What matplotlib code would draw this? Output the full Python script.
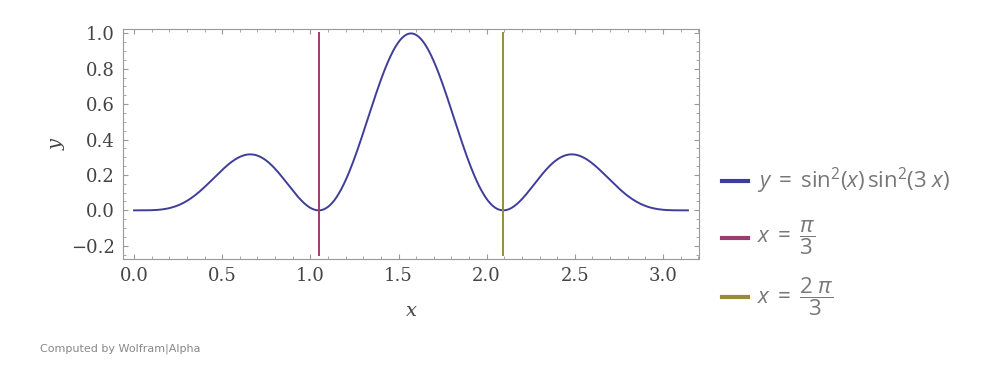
import numpy as np
import matplotlib
matplotlib.use("Agg")
import matplotlib.pyplot as plt
from matplotlib.lines import Line2D
from matplotlib.ticker import MultipleLocator

# ---- data ----
x_vals = np.linspace(0, np.pi, 600)
y_vals = np.sin(x_vals) ** 2 * np.sin(3 * x_vals) ** 2   # y = sin^2(x) sin^2(3x)
vlines_x = [np.pi / 3, 2 * np.pi / 3]
vline_ymin, vline_ymax = -0.25, 1.0
x_ticks = [0.0, 0.5, 1.0, 1.5, 2.0, 2.5, 3.0]
y_ticks = [-0.2, 0.0, 0.2, 0.4, 0.6, 0.8, 1.0]
labels = [r"$y\;=\;\mathrm{sin}^{2}(x)\,\mathrm{sin}^{2}(3\;x)$",
          r"$x\;=\;\dfrac{\pi}{3}$",
          r"$x\;=\;\dfrac{2\;\pi}{3}$"]
colors = ["#3F3D99", "#993D71", "#998B3D"]
legend_y_px = [181, 238, 297]

plt.rcParams['mathtext.fontset'] = 'custom'
plt.rcParams['mathtext.rm'] = 'Open Sans'
plt.rcParams['mathtext.it'] = 'Open Sans:italic'

W, H = 1001, 385
fig = plt.figure(figsize=(W / 100, H / 100), dpi=100)
ax = fig.add_axes([123 / W, 1 - 259 / H, 576 / W, 230 / H])

ax.plot(x_vals, y_vals, color=colors[0], lw=1.4)
for xv, c in zip(vlines_x, colors[1:]):
    ax.plot([xv, xv], [vline_ymin, vline_ymax], color=c, lw=1.4)

ax.set_xlim(-0.0628, np.pi + 0.0628)
ax.set_ylim(-0.275, 1.025)
ax.set_xticks(x_ticks)
ax.set_yticks(y_ticks)
ax.set_xticklabels([f"{t:.1f}" for t in x_ticks])
ax.set_yticklabels([f"{t:.1f}".replace("-", "\u2212") for t in y_ticks])
ax.xaxis.set_minor_locator(MultipleLocator(0.1))
ax.yaxis.set_minor_locator(MultipleLocator(0.05))
ax.tick_params(which='both', direction='in', top=True, right=True,
               color='#999999', labelcolor='#444444')
ax.tick_params(which='major', length=3.3, width=0.8, pad=6)
ax.tick_params(which='minor', length=1.9, width=0.6)
for lab in ax.get_xticklabels() + ax.get_yticklabels():
    lab.set_fontfamily('DejaVu Serif')
    lab.set_fontsize(13)
for s in ax.spines.values():
    s.set_color('#999999')
    s.set_linewidth(0.8)

ax.set_xlabel("x", fontfamily='DejaVu Serif', fontstyle='italic',
              fontsize=14, color='#444444', labelpad=12)
ax.set_ylabel("y", fontfamily='DejaVu Serif', fontstyle='italic',
              fontsize=14, color='#444444', labelpad=4)

for lab, c, ypx in zip(labels, colors, legend_y_px):
    yf = 1 - ypx / H
    fig.add_artist(Line2D([722 / W, 748 / W], [yf, yf], color=c, lw=3,
                          transform=fig.transFigure))
    fig.text(757 / W, yf, lab, fontsize=16, color='#777777', va='center', ha='left')

fig.text(40 / W, 1 - 349 / H, "Computed by Wolfram|Alpha", fontsize=8,
         color='#888888', fontfamily='DejaVu Sans', va='center')

fig.savefig("out.png", dpi=100)
